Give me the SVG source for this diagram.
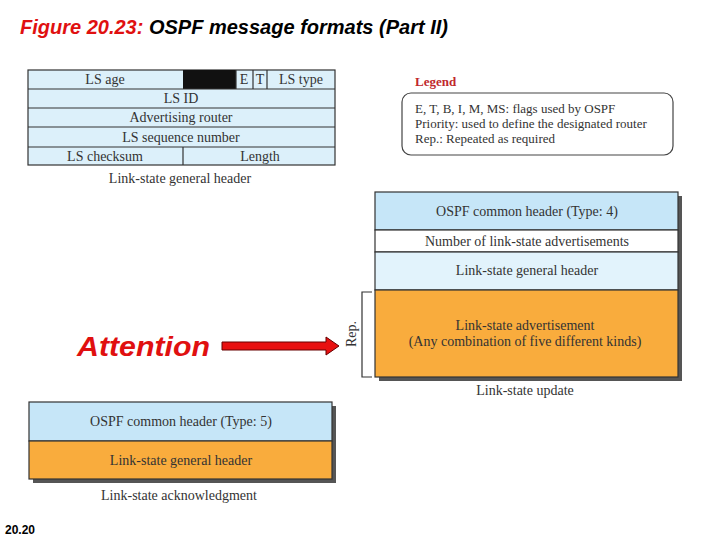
<svg xmlns="http://www.w3.org/2000/svg" width="720" height="540" viewBox="0 0 720 540">
<style>
.cell{stroke:#333;stroke-width:1.2}
.lb{fill:#dcf0fa}
.hb{fill:#c6e6f8}
.xb{fill:#e2f3fc}
.or{fill:#f9ac3d}
.t{font-family:"Liberation Serif",serif;font-size:14px;fill:#333;text-anchor:middle}
.tl{font-family:"Liberation Serif",serif;font-size:13px;fill:#333}
.sh{fill:#555}
</style>
<rect width="720" height="540" fill="#fff"/>
<g id="title">
<text x="20" y="34" font-family="Liberation Sans,Arial,sans-serif" font-size="20" font-weight="bold" font-style="italic"><tspan fill="#e01010">Figure 20.23:</tspan><tspan fill="#000"> OSPF message formats (Part II)</tspan></text>
</g>
<g id="ls-general-header">
<rect class="cell lb" x="28" y="70" width="307" height="95"/>
<rect x="183" y="70" width="53" height="19" fill="#111"/>
<line class="cell" x1="236" y1="70" x2="236" y2="89"/>
<line class="cell" x1="253" y1="70" x2="253" y2="89"/>
<line class="cell" x1="267" y1="70" x2="267" y2="89"/>
<line class="cell" x1="28" y1="89" x2="335" y2="89"/>
<line class="cell" x1="28" y1="108" x2="335" y2="108"/>
<line class="cell" x1="28" y1="127" x2="335" y2="127"/>
<line class="cell" x1="28" y1="147" x2="335" y2="147"/>
<line class="cell" x1="183" y1="147" x2="183" y2="165"/>
<text class="t" x="105" y="84">LS age</text>
<text class="t" x="244" y="84">E</text>
<text class="t" x="260" y="84">T</text>
<text class="t" x="301" y="84">LS type</text>
<text class="t" x="181" y="103">LS ID</text>
<text class="t" x="181" y="122">Advertising router</text>
<text class="t" x="181" y="142">LS sequence number</text>
<text class="t" x="105" y="161">LS checksum</text>
<text class="t" x="260" y="161">Length</text>
<text class="t" x="180" y="183">Link-state general header</text>
</g>
<g id="legend">
<text x="415" y="86" font-family="Liberation Serif,serif" font-size="13" font-weight="bold" fill="#c0282d">Legend</text>
<rect x="402" y="93" width="271" height="62" rx="9" fill="#fff" stroke="#444" stroke-width="1.2"/>
<text class="tl" x="415" y="113">E, T, B, I, M, MS: flags used by OSPF</text>
<text class="tl" x="415" y="128">Priority: used to define the designated router</text>
<text class="tl" x="415" y="143">Rep.: Repeated as required</text>
</g>
<g id="ls-update">
<rect class="sh" x="379" y="196" width="303" height="185"/>
<rect class="cell hb" x="375" y="192" width="303" height="38"/>
<rect class="cell" x="375" y="230" width="303" height="22" fill="#fff"/>
<rect class="cell xb" x="375" y="252" width="303" height="38"/>
<rect class="cell or" x="375" y="290" width="303" height="87"/>
<text class="t" x="527" y="216">OSPF common header (Type: 4)</text>
<text class="t" x="527" y="246">Number of link-state advertisements</text>
<text class="t" x="527" y="275">Link-state general header</text>
<text class="t" x="525" y="330">Link-state advertisement</text>
<text class="t" x="525" y="346">(Any combination of five different kinds)</text>
<text class="t" x="525" y="395">Link-state update</text>
</g>
<g id="rep">
<path d="M372 292 H362 V377 H372" fill="none" stroke="#333" stroke-width="1.2"/>
<text class="t" transform="translate(356 334) rotate(-90)">Rep.</text>
</g>
<g id="ls-ack">
<rect class="sh" x="33" y="406" width="303" height="77"/>
<rect class="cell hb" x="29" y="402" width="303" height="39"/>
<rect class="cell or" x="29" y="441" width="303" height="38"/>
<text class="t" x="181" y="426">OSPF common header (Type: 5)</text>
<text class="t" x="181" y="465">Link-state general header</text>
<text class="t" x="179" y="500">Link-state acknowledgment</text>
</g>
<g id="attention">
<text x="77" y="356" font-family="Liberation Sans,Arial,sans-serif" font-size="27" font-weight="bold" font-style="italic" fill="#e01010" textLength="133" lengthAdjust="spacingAndGlyphs">Attention</text>
<path d="M222 342 H326 V337 L339 346 L326 355 V350 H222 Z" fill="#e81010" stroke="#600" stroke-width="1"/>
</g>
<g id="page">
<text x="5" y="534" font-family="Liberation Sans,Arial,sans-serif" font-size="12" font-weight="bold" fill="#000">20.20</text>
</g>
</svg>
